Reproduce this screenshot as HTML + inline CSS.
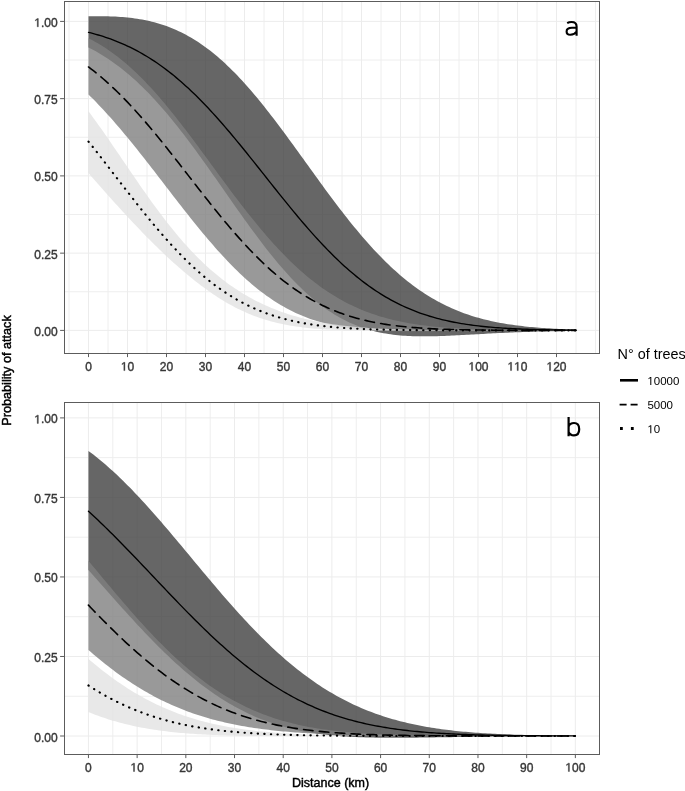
<!DOCTYPE html>
<html><head><meta charset="utf-8"><title>Probability of attack</title>
<style>
html,body{margin:0;padding:0;background:#fff;}
body{width:685px;height:791px;overflow:hidden;position:relative;}
svg{position:absolute;left:0;top:0;display:block;filter:blur(0.4px);}
text{font-family:"Liberation Sans",sans-serif;}
.ax{font-size:12px;fill:#363636;stroke:#363636;stroke-width:0.38px;}
.ax1{fill:#363636;stroke:#363636;stroke-width:64.85333333333334;}
.lg1{fill:#000;}
.let{font-size:27px;fill:#000;}
.tt{font-size:12.5px;fill:#000;}
.lg{font-size:11.5px;fill:#000;}
.lt{font-size:14.4px;fill:#000;}
</style></head><body>
<svg width="685" height="791" viewBox="0 0 685 791">
<rect width="685" height="791" fill="#fff"/>

<clipPath id="ca"><rect x="64.5" y="1.5" width="535.0" height="352.0"/></clipPath>
<g clip-path="url(#ca)">
<path d="M69 1.5V353.5M108 1.5V353.5M147 1.5V353.5M186 1.5V353.5M225 1.5V353.5M264 1.5V353.5M303 1.5V353.5M342 1.5V353.5M381 1.5V353.5M420 1.5V353.5M459 1.5V353.5M498 1.5V353.5M537 1.5V353.5M576 1.5V353.5M595.5 1.5V353.5M64.5 291.77H599.5M64.5 214.52H599.5M64.5 137.27H599.5M64.5 60.02H599.5" stroke="#eeeeee" stroke-width="1" fill="none"/>
<path d="M88.5 1.5V353.5M127.5 1.5V353.5M166.5 1.5V353.5M205.5 1.5V353.5M244.5 1.5V353.5M283.5 1.5V353.5M322.5 1.5V353.5M361.5 1.5V353.5M400.5 1.5V353.5M439.5 1.5V353.5M478.5 1.5V353.5M517.5 1.5V353.5M556.5 1.5V353.5M64.5 330.4H599.5M64.5 253.15H599.5M64.5 175.9H599.5M64.5 98.65H599.5M64.5 21.4H599.5" stroke="#ececec" stroke-width="1" fill="none"/>
<path d="M88.5 16.35L90.94 16.3L93.38 16.27L95.81 16.24L98.25 16.23L100.69 16.24L103.12 16.25L105.56 16.29L108 16.34L110.44 16.41L112.88 16.5L115.31 16.61L117.75 16.74L120.19 16.9L122.62 17.08L125.06 17.29L127.5 17.52L129.94 17.79L132.38 18.08L134.81 18.4L137.25 18.76L139.69 19.15L142.12 19.58L144.56 20.04L147 20.54L149.44 21.09L151.88 21.67L154.31 22.29L156.75 22.96L159.19 23.67L161.62 24.43L164.06 25.24L166.5 26.09L168.94 27L171.38 27.95L173.81 28.96L176.25 30.02L178.69 31.14L181.12 32.31L183.56 33.53L186 34.81L188.44 36.15L190.88 37.55L193.31 39L195.75 40.51L198.19 42.09L200.62 43.72L203.06 45.41L205.5 47.16L207.94 48.98L210.38 50.85L212.81 52.78L215.25 54.78L217.69 56.83L220.12 58.95L222.56 61.12L225 63.35L227.44 65.64L229.88 67.99L232.31 70.4L234.75 72.86L237.19 75.37L239.62 77.94L242.06 80.56L244.5 83.24L246.94 85.96L249.38 88.74L251.81 91.56L254.25 94.42L256.69 97.34L259.12 100.29L261.56 103.29L264 106.32L266.44 109.4L268.88 112.5L271.31 115.65L273.75 118.82L276.19 122.02L278.62 125.25L281.06 128.51L283.5 131.79L285.94 135.09L288.38 138.41L290.81 141.74L293.25 145.09L295.69 148.45L298.12 151.82L300.56 155.2L303 158.58L305.44 161.97L307.88 165.36L310.31 168.74L312.75 172.12L315.19 175.49L317.62 178.86L320.06 182.21L322.5 185.56L324.94 188.88L327.38 192.19L329.81 195.48L332.25 198.75L334.69 202L337.12 205.22L339.56 208.41L342 211.57L344.44 214.71L346.88 217.81L349.31 220.88L351.75 223.91L354.19 226.91L356.62 229.87L359.06 232.79L361.5 235.66L363.94 238.5L366.38 241.29L368.81 244.04L371.25 246.74L373.69 249.4L376.12 252.01L378.56 254.57L381 257.08L383.44 259.54L385.88 261.96L388.31 264.32L390.75 266.64L393.19 268.9L395.62 271.11L398.06 273.27L400.5 275.38L402.94 277.44L405.38 279.45L407.81 281.4L410.25 283.3L412.69 285.16L415.12 286.96L417.56 288.71L420 290.41L422.44 292.06L424.88 293.67L427.31 295.22L429.75 296.72L432.19 298.18L434.62 299.59L437.06 300.96L439.5 302.28L441.94 303.55L444.38 304.78L446.81 305.97L449.25 307.11L451.69 308.21L454.12 309.27L456.56 310.3L459 311.28L461.44 312.22L463.88 313.13L466.31 314L468.75 314.83L471.19 315.64L473.62 316.4L476.06 317.14L478.5 317.84L480.94 318.51L483.38 319.16L485.81 319.77L488.25 320.35L490.69 320.91L493.12 321.45L495.56 321.95L498 322.44L500.44 322.9L502.88 323.33L505.31 323.75L507.75 324.14L510.19 324.52L512.62 324.87L515.06 325.21L517.5 325.53L519.94 325.83L522.38 326.12L524.81 326.39L527.25 326.64L529.69 326.88L532.12 327.11L534.56 327.33L537 327.53L539.44 327.72L541.88 327.9L544.31 328.07L546.75 328.23L549.19 328.37L551.62 328.51L554.06 328.65L556.5 328.77L558.94 328.88L561.38 328.99L563.81 329.09L566.25 329.19L568.69 329.28L571.12 329.36L573.56 329.44L576 329.51L576 330.83L573.56 330.86L571.12 330.89L568.69 330.93L566.25 330.97L563.81 331L561.38 331.05L558.94 331.09L556.5 331.13L554.06 331.18L551.62 331.23L549.19 331.29L546.75 331.34L544.31 331.4L541.88 331.47L539.44 331.53L537 331.6L534.56 331.67L532.12 331.74L529.69 331.82L527.25 331.9L524.81 331.98L522.38 332.07L519.94 332.16L517.5 332.26L515.06 332.35L512.62 332.45L510.19 332.56L507.75 332.66L505.31 332.77L502.88 332.88L500.44 333L498 333.12L495.56 333.24L493.12 333.36L490.69 333.49L488.25 333.62L485.81 333.75L483.38 333.88L480.94 334.02L478.5 334.15L476.06 334.29L473.62 334.42L471.19 334.56L468.75 334.69L466.31 334.83L463.88 334.96L461.44 335.09L459 335.22L456.56 335.35L454.12 335.47L451.69 335.59L449.25 335.7L446.81 335.81L444.38 335.91L441.94 336.01L439.5 336.09L437.06 336.17L434.62 336.23L432.19 336.29L429.75 336.33L427.31 336.36L424.88 336.37L422.44 336.37L420 336.35L417.56 336.32L415.12 336.26L412.69 336.19L410.25 336.09L407.81 335.97L405.38 335.83L402.94 335.66L400.5 335.46L398.06 335.23L395.62 334.98L393.19 334.69L390.75 334.37L388.31 334.01L385.88 333.62L383.44 333.19L381 332.73L378.56 332.22L376.12 331.67L373.69 331.07L371.25 330.44L368.81 329.75L366.38 329.02L363.94 328.24L361.5 327.41L359.06 326.53L356.62 325.59L354.19 324.61L351.75 323.56L349.31 322.46L346.88 321.31L344.44 320.09L342 318.82L339.56 317.48L337.12 316.09L334.69 314.63L332.25 313.11L329.81 311.53L327.38 309.89L324.94 308.18L322.5 306.41L320.06 304.57L317.62 302.67L315.19 300.71L312.75 298.68L310.31 296.59L307.88 294.44L305.44 292.22L303 289.94L300.56 287.6L298.12 285.2L295.69 282.73L293.25 280.21L290.81 277.63L288.38 274.99L285.94 272.3L283.5 269.54L281.06 266.74L278.62 263.88L276.19 260.98L273.75 258.02L271.31 255.02L268.88 251.97L266.44 248.88L264 245.75L261.56 242.57L259.12 239.36L256.69 236.12L254.25 232.84L251.81 229.53L249.38 226.19L246.94 222.83L244.5 219.44L242.06 216.03L239.62 212.6L237.19 209.16L234.75 205.7L232.31 202.23L229.88 198.76L227.44 195.27L225 191.79L222.56 188.3L220.12 184.81L217.69 181.33L215.25 177.85L212.81 174.38L210.38 170.92L207.94 167.48L205.5 164.05L203.06 160.64L200.62 157.25L198.19 153.89L195.75 150.54L193.31 147.23L190.88 143.94L188.44 140.69L186 137.46L183.56 134.28L181.12 131.13L178.69 128.01L176.25 124.94L173.81 121.9L171.38 118.91L168.94 115.97L166.5 113.06L164.06 110.21L161.62 107.4L159.19 104.64L156.75 101.93L154.31 99.27L151.88 96.66L149.44 94.1L147 91.6L144.56 89.15L142.12 86.75L139.69 84.4L137.25 82.11L134.81 79.87L132.38 77.69L129.94 75.56L127.5 73.48L125.06 71.46L122.62 69.49L120.19 67.58L117.75 65.72L115.31 63.91L112.88 62.16L110.44 60.45L108 58.8L105.56 57.2L103.12 55.65L100.69 54.15L98.25 52.7L95.81 51.3L93.38 49.95L90.94 48.64L88.5 47.38Z" fill="#404040" fill-opacity="0.8"/>
<path d="M88.5 38.31L90.94 39.55L93.38 40.84L95.81 42.18L98.25 43.58L100.69 45.03L103.12 46.54L105.56 48.11L108 49.73L110.44 51.42L112.88 53.16L115.31 54.96L117.75 56.82L120.19 58.74L122.62 60.71L125.06 62.75L127.5 64.84L129.94 67L132.38 69.21L134.81 71.47L137.25 73.8L139.69 76.17L142.12 78.61L144.56 81.1L147 83.64L149.44 86.23L151.88 88.87L154.31 91.57L156.75 94.31L159.19 97.1L161.62 99.93L164.06 102.81L166.5 105.73L168.94 108.68L171.38 111.68L173.81 114.72L176.25 117.78L178.69 120.89L181.12 124.02L183.56 127.18L186 130.36L188.44 133.57L190.88 136.81L193.31 140.06L195.75 143.33L198.19 146.61L200.62 149.91L203.06 153.22L205.5 156.53L207.94 159.85L210.38 163.18L212.81 166.51L215.25 169.83L217.69 173.15L220.12 176.47L222.56 179.78L225 183.08L227.44 186.36L229.88 189.63L232.31 192.89L234.75 196.13L237.19 199.34L239.62 202.54L242.06 205.71L244.5 208.85L246.94 211.96L249.38 215.05L251.81 218.1L254.25 221.12L256.69 224.11L259.12 227.06L261.56 229.98L264 232.85L266.44 235.69L268.88 238.48L271.31 241.23L273.75 243.94L276.19 246.61L278.62 249.23L281.06 251.8L283.5 254.33L285.94 256.81L288.38 259.24L290.81 261.63L293.25 263.96L295.69 266.25L298.12 268.49L300.56 270.68L303 272.81L305.44 274.9L307.88 276.94L310.31 278.93L312.75 280.87L315.19 282.76L317.62 284.6L320.06 286.39L322.5 288.13L324.94 289.82L327.38 291.46L329.81 293.06L332.25 294.61L334.69 296.11L337.12 297.56L339.56 298.97L342 300.34L344.44 301.66L346.88 302.93L349.31 304.17L351.75 305.36L354.19 306.5L356.62 307.61L359.06 308.68L361.5 309.71L363.94 310.7L366.38 311.65L368.81 312.57L371.25 313.45L373.69 314.3L376.12 315.11L378.56 315.89L381 316.63L383.44 317.35L385.88 318.03L388.31 318.69L390.75 319.32L393.19 319.92L395.62 320.49L398.06 321.03L400.5 321.55L402.94 322.05L405.38 322.52L407.81 322.97L410.25 323.4L412.69 323.81L415.12 324.2L417.56 324.57L420 324.91L422.44 325.25L424.88 325.56L427.31 325.86L429.75 326.14L432.19 326.41L434.62 326.66L437.06 326.9L439.5 327.12L441.94 327.33L444.38 327.53L446.81 327.72L449.25 327.9L451.69 328.07L454.12 328.22L456.56 328.37L459 328.51L461.44 328.64L463.88 328.76L466.31 328.88L468.75 328.99L471.19 329.09L473.62 329.18L476.06 329.27L478.5 329.35L480.94 329.43L483.38 329.5L485.81 329.57L488.25 329.63L490.69 329.69L493.12 329.74L495.56 329.79L498 329.84L500.44 329.88L502.88 329.93L505.31 329.96L507.75 330L510.19 330.03L512.62 330.06L515.06 330.09L517.5 330.11L519.94 330.14L522.38 330.16L524.81 330.18L527.25 330.2L529.69 330.21L532.12 330.23L534.56 330.25L537 330.26L539.44 330.27L541.88 330.28L544.31 330.29L546.75 330.3L549.19 330.31L551.62 330.32L554.06 330.33L556.5 330.33L558.94 330.34L561.38 330.34L563.81 330.35L566.25 330.35L568.69 330.36L571.12 330.36L573.56 330.37L576 330.37L576 330.42L573.56 330.42L571.12 330.42L568.69 330.42L566.25 330.42L563.81 330.43L561.38 330.43L558.94 330.43L556.5 330.43L554.06 330.44L551.62 330.44L549.19 330.44L546.75 330.45L544.31 330.45L541.88 330.45L539.44 330.46L537 330.46L534.56 330.47L532.12 330.48L529.69 330.48L527.25 330.49L524.81 330.49L522.38 330.5L519.94 330.51L517.5 330.52L515.06 330.53L512.62 330.54L510.19 330.55L507.75 330.56L505.31 330.57L502.88 330.58L500.44 330.59L498 330.6L495.56 330.62L493.12 330.63L490.69 330.65L488.25 330.66L485.81 330.68L483.38 330.69L480.94 330.71L478.5 330.73L476.06 330.75L473.62 330.77L471.19 330.79L468.75 330.81L466.31 330.83L463.88 330.85L461.44 330.87L459 330.9L456.56 330.92L454.12 330.94L451.69 330.96L449.25 330.99L446.81 331.01L444.38 331.03L441.94 331.05L439.5 331.07L437.06 331.1L434.62 331.12L432.19 331.13L429.75 331.15L427.31 331.17L424.88 331.18L422.44 331.19L420 331.2L417.56 331.21L415.12 331.21L412.69 331.21L410.25 331.21L407.81 331.2L405.38 331.19L402.94 331.17L400.5 331.14L398.06 331.11L395.62 331.07L393.19 331.03L390.75 330.97L388.31 330.91L385.88 330.84L383.44 330.76L381 330.66L378.56 330.56L376.12 330.44L373.69 330.31L371.25 330.17L368.81 330.01L366.38 329.83L363.94 329.64L361.5 329.43L359.06 329.19L356.62 328.94L354.19 328.67L351.75 328.38L349.31 328.06L346.88 327.72L344.44 327.35L342 326.96L339.56 326.54L337.12 326.09L334.69 325.61L332.25 325.1L329.81 324.56L327.38 323.98L324.94 323.37L322.5 322.72L320.06 322.03L317.62 321.31L315.19 320.55L312.75 319.75L310.31 318.9L307.88 318.02L305.44 317.09L303 316.11L300.56 315.09L298.12 314.03L295.69 312.92L293.25 311.75L290.81 310.55L288.38 309.29L285.94 307.98L283.5 306.62L281.06 305.21L278.62 303.74L276.19 302.23L273.75 300.66L271.31 299.04L268.88 297.37L266.44 295.64L264 293.86L261.56 292.03L259.12 290.14L256.69 288.2L254.25 286.21L251.81 284.16L249.38 282.07L246.94 279.92L244.5 277.72L242.06 275.47L239.62 273.17L237.19 270.82L234.75 268.42L232.31 265.98L229.88 263.49L227.44 260.95L225 258.37L222.56 255.75L220.12 253.09L217.69 250.38L215.25 247.64L212.81 244.86L210.38 242.04L207.94 239.19L205.5 236.31L203.06 233.39L200.62 230.45L198.19 227.48L195.75 224.48L193.31 221.46L190.88 218.41L188.44 215.35L186 212.26L183.56 209.16L181.12 206.05L178.69 202.92L176.25 199.78L173.81 196.63L171.38 193.47L168.94 190.31L166.5 187.15L164.06 183.98L161.62 180.81L159.19 177.65L156.75 174.49L154.31 171.34L151.88 168.19L149.44 165.06L147 161.93L144.56 158.82L142.12 155.73L139.69 152.65L137.25 149.59L134.81 146.55L132.38 143.53L129.94 140.54L127.5 137.57L125.06 134.63L122.62 131.71L120.19 128.83L117.75 125.97L115.31 123.15L112.88 120.36L110.44 117.61L108 114.89L105.56 112.2L103.12 109.56L100.69 106.95L98.25 104.39L95.81 101.86L93.38 99.37L90.94 96.93L88.5 94.53Z" fill="#808080" fill-opacity="0.8"/>
<path d="M88.5 111.26L90.94 114.55L93.38 117.88L95.81 121.25L98.25 124.65L100.69 128.08L103.12 131.54L105.56 135.03L108 138.55L110.44 142.08L112.88 145.63L115.31 149.19L117.75 152.76L120.19 156.34L122.62 159.93L125.06 163.52L127.5 167.1L129.94 170.68L132.38 174.25L134.81 177.81L137.25 181.35L139.69 184.88L142.12 188.38L144.56 191.87L147 195.32L149.44 198.75L151.88 202.14L154.31 205.5L156.75 208.82L159.19 212.11L161.62 215.35L164.06 218.55L166.5 221.7L168.94 224.81L171.38 227.86L173.81 230.87L176.25 233.83L178.69 236.73L181.12 239.58L183.56 242.38L186 245.11L188.44 247.8L190.88 250.43L193.31 253L195.75 255.51L198.19 257.97L200.62 260.37L203.06 262.71L205.5 265L207.94 267.23L210.38 269.41L212.81 271.53L215.25 273.6L217.69 275.61L220.12 277.57L222.56 279.48L225 281.33L227.44 283.14L229.88 284.9L232.31 286.6L234.75 288.26L237.19 289.87L239.62 291.43L242.06 292.95L244.5 294.42L246.94 295.85L249.38 297.23L251.81 298.58L254.25 299.88L256.69 301.13L259.12 302.35L261.56 303.53L264 304.67L266.44 305.78L268.88 306.85L271.31 307.88L273.75 308.87L276.19 309.83L278.62 310.76L281.06 311.65L283.5 312.51L285.94 313.34L288.38 314.14L290.81 314.91L293.25 315.66L295.69 316.37L298.12 317.05L300.56 317.71L303 318.34L305.44 318.95L307.88 319.53L310.31 320.09L312.75 320.62L315.19 321.13L317.62 321.62L320.06 322.09L322.5 322.53L324.94 322.96L327.38 323.37L329.81 323.76L332.25 324.13L334.69 324.48L337.12 324.82L339.56 325.14L342 325.44L344.44 325.73L346.88 326.01L349.31 326.27L351.75 326.52L354.19 326.76L356.62 326.98L359.06 327.19L361.5 327.39L363.94 327.58L366.38 327.76L368.81 327.93L371.25 328.09L373.69 328.24L376.12 328.38L378.56 328.51L381 328.64L383.44 328.76L385.88 328.87L388.31 328.97L390.75 329.07L393.19 329.17L395.62 329.25L398.06 329.33L400.5 329.41L402.94 329.48L405.38 329.55L407.81 329.61L410.25 329.67L412.69 329.72L415.12 329.77L417.56 329.82L420 329.86L422.44 329.91L424.88 329.94L427.31 329.98L429.75 330.01L432.19 330.04L434.62 330.07L437.06 330.1L439.5 330.12L441.94 330.14L444.38 330.17L446.81 330.18L449.25 330.2L451.69 330.22L454.12 330.23L456.56 330.25L459 330.26L461.44 330.27L463.88 330.28L466.31 330.29L468.75 330.3L471.19 330.31L473.62 330.32L476.06 330.33L478.5 330.33L480.94 330.34L483.38 330.35L485.81 330.35L488.25 330.35L490.69 330.36L493.12 330.36L495.56 330.37L498 330.37L500.44 330.37L502.88 330.38L505.31 330.38L507.75 330.38L510.19 330.38L512.62 330.38L515.06 330.39L517.5 330.39L519.94 330.39L522.38 330.39L524.81 330.39L527.25 330.39L529.69 330.39L532.12 330.39L534.56 330.39L537 330.39L539.44 330.39L541.88 330.4L544.31 330.4L546.75 330.4L549.19 330.4L551.62 330.4L554.06 330.4L556.5 330.4L558.94 330.4L561.38 330.4L563.81 330.4L566.25 330.4L568.69 330.4L571.12 330.4L573.56 330.4L576 330.4L576 330.4L573.56 330.4L571.12 330.4L568.69 330.4L566.25 330.4L563.81 330.4L561.38 330.4L558.94 330.4L556.5 330.4L554.06 330.4L551.62 330.4L549.19 330.4L546.75 330.4L544.31 330.4L541.88 330.4L539.44 330.4L537 330.4L534.56 330.4L532.12 330.4L529.69 330.4L527.25 330.4L524.81 330.4L522.38 330.41L519.94 330.41L517.5 330.41L515.06 330.41L512.62 330.41L510.19 330.41L507.75 330.41L505.31 330.41L502.88 330.41L500.44 330.41L498 330.41L495.56 330.41L493.12 330.42L490.69 330.42L488.25 330.42L485.81 330.42L483.38 330.42L480.94 330.42L478.5 330.43L476.06 330.43L473.62 330.43L471.19 330.43L468.75 330.44L466.31 330.44L463.88 330.44L461.44 330.45L459 330.45L456.56 330.45L454.12 330.46L451.69 330.46L449.25 330.46L446.81 330.47L444.38 330.47L441.94 330.48L439.5 330.48L437.06 330.49L434.62 330.49L432.19 330.5L429.75 330.5L427.31 330.51L424.88 330.51L422.44 330.52L420 330.53L417.56 330.53L415.12 330.54L412.69 330.54L410.25 330.55L407.81 330.55L405.38 330.56L402.94 330.56L400.5 330.57L398.06 330.57L395.62 330.57L393.19 330.57L390.75 330.58L388.31 330.58L385.88 330.57L383.44 330.57L381 330.57L378.56 330.56L376.12 330.55L373.69 330.54L371.25 330.53L368.81 330.52L366.38 330.5L363.94 330.48L361.5 330.45L359.06 330.42L356.62 330.39L354.19 330.35L351.75 330.3L349.31 330.25L346.88 330.2L344.44 330.13L342 330.06L339.56 329.99L337.12 329.9L334.69 329.81L332.25 329.7L329.81 329.58L327.38 329.46L324.94 329.32L322.5 329.17L320.06 329L317.62 328.82L315.19 328.63L312.75 328.42L310.31 328.19L307.88 327.95L305.44 327.68L303 327.4L300.56 327.09L298.12 326.77L295.69 326.42L293.25 326.04L290.81 325.64L288.38 325.22L285.94 324.77L283.5 324.29L281.06 323.77L278.62 323.23L276.19 322.66L273.75 322.05L271.31 321.41L268.88 320.74L266.44 320.03L264 319.28L261.56 318.49L259.12 317.67L256.69 316.81L254.25 315.9L251.81 314.96L249.38 313.97L246.94 312.94L244.5 311.87L242.06 310.76L239.62 309.6L237.19 308.39L234.75 307.15L232.31 305.86L229.88 304.52L227.44 303.15L225 301.72L222.56 300.26L220.12 298.75L217.69 297.2L215.25 295.61L212.81 293.98L210.38 292.3L207.94 290.59L205.5 288.84L203.06 287.05L200.62 285.22L198.19 283.35L195.75 281.45L193.31 279.52L190.88 277.55L188.44 275.55L186 273.51L183.56 271.45L181.12 269.35L178.69 267.23L176.25 265.07L173.81 262.89L171.38 260.67L168.94 258.43L166.5 256.17L164.06 253.88L161.62 251.56L159.19 249.21L156.75 246.85L154.31 244.45L151.88 242.04L149.44 239.6L147 237.14L144.56 234.65L142.12 232.15L139.69 229.62L137.25 227.08L134.81 224.51L132.38 221.93L129.94 219.33L127.5 216.71L125.06 214.07L122.62 211.42L120.19 208.75L117.75 206.07L115.31 203.38L112.88 200.67L110.44 197.95L108 195.22L105.56 192.48L103.12 189.73L100.69 186.97L98.25 184.21L95.81 181.44L93.38 178.66L90.94 175.88L88.5 173.1Z" fill="#e2e2e2" fill-opacity="0.8"/>
<path d="M88.5 32.35L90.94 32.97L93.38 33.61L95.81 34.28L98.25 34.99L100.69 35.72L103.12 36.48L105.56 37.28L108 38.11L110.44 38.97L112.88 39.87L115.31 40.8L117.75 41.77L120.19 42.78L122.62 43.82L125.06 44.91L127.5 46.03L129.94 47.19L132.38 48.4L134.81 49.64L137.25 50.93L139.69 52.26L142.12 53.63L144.56 55.05L147 56.51L149.44 58.02L151.88 59.57L154.31 61.17L156.75 62.81L159.19 64.5L161.62 66.23L164.06 68.01L166.5 69.84L168.94 71.71L171.38 73.63L173.81 75.6L176.25 77.61L178.69 79.67L181.12 81.78L183.56 83.93L186 86.13L188.44 88.37L190.88 90.65L193.31 92.98L195.75 95.35L198.19 97.77L200.62 100.22L203.06 102.72L205.5 105.25L207.94 107.83L210.38 110.44L212.81 113.09L215.25 115.77L217.69 118.49L220.12 121.25L222.56 124.03L225 126.84L227.44 129.69L229.88 132.56L232.31 135.45L234.75 138.37L237.19 141.32L239.62 144.28L242.06 147.26L244.5 150.26L246.94 153.28L249.38 156.31L251.81 159.35L254.25 162.4L256.69 165.47L259.12 168.53L261.56 171.6L264 174.68L266.44 177.75L268.88 180.83L271.31 183.9L273.75 186.97L276.19 190.03L278.62 193.08L281.06 196.12L283.5 199.14L285.94 202.16L288.38 205.15L290.81 208.13L293.25 211.09L295.69 214.03L298.12 216.95L300.56 219.84L303 222.7L305.44 225.54L307.88 228.35L310.31 231.12L312.75 233.87L315.19 236.58L317.62 239.26L320.06 241.9L322.5 244.51L324.94 247.07L327.38 249.6L329.81 252.09L332.25 254.54L334.69 256.94L337.12 259.3L339.56 261.62L342 263.9L344.44 266.13L346.88 268.32L349.31 270.46L351.75 272.55L354.19 274.6L356.62 276.61L359.06 278.57L361.5 280.48L363.94 282.34L366.38 284.16L368.81 285.93L371.25 287.66L373.69 289.33L376.12 290.97L378.56 292.55L381 294.1L383.44 295.59L385.88 297.05L388.31 298.45L390.75 299.82L393.19 301.14L395.62 302.42L398.06 303.65L400.5 304.85L402.94 306L405.38 307.12L407.81 308.2L410.25 309.23L412.69 310.23L415.12 311.19L417.56 312.12L420 313.01L422.44 313.87L424.88 314.69L427.31 315.48L429.75 316.24L432.19 316.96L434.62 317.66L437.06 318.32L439.5 318.96L441.94 319.57L444.38 320.15L446.81 320.71L449.25 321.24L451.69 321.75L454.12 322.23L456.56 322.69L459 323.13L461.44 323.55L463.88 323.95L466.31 324.33L468.75 324.68L471.19 325.02L473.62 325.35L476.06 325.65L478.5 325.94L480.94 326.22L483.38 326.48L485.81 326.72L488.25 326.96L490.69 327.18L493.12 327.38L495.56 327.58L498 327.76L500.44 327.94L502.88 328.1L505.31 328.25L507.75 328.4L510.19 328.53L512.62 328.66L515.06 328.78L517.5 328.89L519.94 329L522.38 329.1L524.81 329.19L527.25 329.28L529.69 329.36L532.12 329.43L534.56 329.51L537 329.57L539.44 329.63L541.88 329.69L544.31 329.74L546.75 329.79L549.19 329.84L551.62 329.88L554.06 329.92L556.5 329.96L558.94 329.99L561.38 330.03L563.81 330.06L566.25 330.08L568.69 330.11L571.12 330.13L573.56 330.16L576 330.18" fill="none" stroke="#000" stroke-width="1.35" stroke-linecap="round" stroke-linejoin="round" />
<path d="M88.5 66.98L90.94 68.82L93.38 70.71L95.81 72.65L98.25 74.63L100.69 76.67L103.12 78.75L105.56 80.88L108 83.06L110.44 85.28L112.88 87.56L115.31 89.87L117.75 92.24L120.19 94.65L122.62 97.1L125.06 99.6L127.5 102.14L129.94 104.72L132.38 107.34L134.81 110L137.25 112.71L139.69 115.44L142.12 118.22L144.56 121.02L147 123.87L149.44 126.74L151.88 129.64L154.31 132.57L156.75 135.53L159.19 138.52L161.62 141.53L164.06 144.55L166.5 147.6L168.94 150.67L171.38 153.76L173.81 156.85L176.25 159.96L178.69 163.08L181.12 166.21L183.56 169.35L186 172.49L188.44 175.63L190.88 178.77L193.31 181.91L195.75 185.04L198.19 188.17L200.62 191.3L203.06 194.41L205.5 197.51L207.94 200.59L210.38 203.66L212.81 206.72L215.25 209.75L217.69 212.76L220.12 215.75L222.56 218.71L225 221.65L227.44 224.56L229.88 227.44L232.31 230.28L234.75 233.1L237.19 235.88L239.62 238.62L242.06 241.33L244.5 244L246.94 246.63L249.38 249.22L251.81 251.76L254.25 254.27L256.69 256.73L259.12 259.15L261.56 261.52L264 263.85L266.44 266.13L268.88 268.36L271.31 270.55L273.75 272.68L276.19 274.77L278.62 276.82L281.06 278.81L283.5 280.76L285.94 282.65L288.38 284.5L290.81 286.3L293.25 288.05L295.69 289.76L298.12 291.41L300.56 293.02L303 294.58L305.44 296.1L307.88 297.56L310.31 298.98L312.75 300.36L315.19 301.69L317.62 302.98L320.06 304.22L322.5 305.42L324.94 306.58L327.38 307.7L329.81 308.78L332.25 309.82L334.69 310.81L337.12 311.77L339.56 312.7L342 313.58L344.44 314.44L346.88 315.25L349.31 316.03L351.75 316.78L354.19 317.5L356.62 318.19L359.06 318.85L361.5 319.48L363.94 320.07L366.38 320.65L368.81 321.19L371.25 321.71L373.69 322.21L376.12 322.68L378.56 323.13L381 323.56L383.44 323.96L385.88 324.35L388.31 324.71L390.75 325.06L393.19 325.38L395.62 325.69L398.06 325.99L400.5 326.27L402.94 326.53L405.38 326.78L407.81 327.01L410.25 327.23L412.69 327.44L415.12 327.64L417.56 327.82L420 328L422.44 328.16L424.88 328.31L427.31 328.46L429.75 328.59L432.19 328.72L434.62 328.84L437.06 328.95L439.5 329.05L441.94 329.15L444.38 329.24L446.81 329.33L449.25 329.41L451.69 329.48L454.12 329.55L456.56 329.61L459 329.67L461.44 329.73L463.88 329.78L466.31 329.83L468.75 329.87L471.19 329.92L473.62 329.95L476.06 329.99L478.5 330.02L480.94 330.05L483.38 330.08L485.81 330.11L488.25 330.13L490.69 330.15L493.12 330.18L495.56 330.19L498 330.21L500.44 330.23L502.88 330.24L505.31 330.26L507.75 330.27L510.19 330.28L512.62 330.29L515.06 330.3L517.5 330.31L519.94 330.32L522.38 330.33L524.81 330.33L527.25 330.34L529.69 330.34L532.12 330.35L534.56 330.35L537 330.36L539.44 330.36L541.88 330.37L544.31 330.37L546.75 330.37L549.19 330.37L551.62 330.38L554.06 330.38L556.5 330.38L558.94 330.38L561.38 330.38L563.81 330.39L566.25 330.39L568.69 330.39L571.12 330.39L573.56 330.39L576 330.39" fill="none" stroke="#000" stroke-width="1.6" stroke-linecap="round" stroke-linejoin="round" stroke-dasharray="9.6 6.3"/>
<path d="M88.5 141.58L90.94 144.64L93.38 147.72L95.81 150.81L98.25 153.92L100.69 157.05L103.12 160.19L105.56 163.34L108 166.49L110.44 169.66L112.88 172.83L115.31 176L117.75 179.17L120.19 182.33L122.62 185.5L125.06 188.65L127.5 191.8L129.94 194.94L132.38 198.06L134.81 201.18L137.25 204.27L139.69 207.35L142.12 210.4L144.56 213.44L147 216.44L149.44 219.43L151.88 222.38L154.31 225.31L156.75 228.21L159.19 231.07L161.62 233.9L164.06 236.7L166.5 239.45L168.94 242.17L171.38 244.85L173.81 247.49L176.25 250.09L178.69 252.65L181.12 255.16L183.56 257.62L186 260.05L188.44 262.42L190.88 264.75L193.31 267.03L195.75 269.27L198.19 271.45L200.62 273.59L203.06 275.68L205.5 277.72L207.94 279.71L210.38 281.65L212.81 283.54L215.25 285.38L217.69 287.17L220.12 288.92L222.56 290.61L225 292.26L227.44 293.85L229.88 295.4L232.31 296.9L234.75 298.36L237.19 299.77L239.62 301.13L242.06 302.45L244.5 303.72L246.94 304.95L249.38 306.14L251.81 307.28L254.25 308.38L256.69 309.44L259.12 310.47L261.56 311.45L264 312.39L266.44 313.3L268.88 314.17L271.31 315L273.75 315.8L276.19 316.57L278.62 317.3L281.06 318.01L283.5 318.68L285.94 319.32L288.38 319.93L290.81 320.51L293.25 321.07L295.69 321.6L298.12 322.11L300.56 322.59L303 323.04L305.44 323.48L307.88 323.89L310.31 324.28L312.75 324.65L315.19 325.01L317.62 325.34L320.06 325.66L322.5 325.95L324.94 326.24L327.38 326.5L329.81 326.75L332.25 326.99L334.69 327.22L337.12 327.43L339.56 327.63L342 327.81L344.44 327.99L346.88 328.15L349.31 328.31L351.75 328.45L354.19 328.59L356.62 328.72L359.06 328.84L361.5 328.95L363.94 329.06L366.38 329.15L368.81 329.25L371.25 329.33L373.69 329.41L376.12 329.49L378.56 329.55L381 329.62L383.44 329.68L385.88 329.74L388.31 329.79L390.75 329.84L393.19 329.88L395.62 329.92L398.06 329.96L400.5 330L402.94 330.03L405.38 330.06L407.81 330.09L410.25 330.11L412.69 330.14L415.12 330.16L417.56 330.18L420 330.2L422.44 330.22L424.88 330.23L427.31 330.25L429.75 330.26L432.19 330.27L434.62 330.28L437.06 330.29L439.5 330.3L441.94 330.31L444.38 330.32L446.81 330.33L449.25 330.33L451.69 330.34L454.12 330.35L456.56 330.35L459 330.36L461.44 330.36L463.88 330.36L466.31 330.37L468.75 330.37L471.19 330.37L473.62 330.38L476.06 330.38L478.5 330.38L480.94 330.38L483.38 330.38L485.81 330.39L488.25 330.39L490.69 330.39L493.12 330.39L495.56 330.39L498 330.39L500.44 330.39L502.88 330.39L505.31 330.39L507.75 330.39L510.19 330.4L512.62 330.4L515.06 330.4L517.5 330.4L519.94 330.4L522.38 330.4L524.81 330.4L527.25 330.4L529.69 330.4L532.12 330.4L534.56 330.4L537 330.4L539.44 330.4L541.88 330.4L544.31 330.4L546.75 330.4L549.19 330.4L551.62 330.4L554.06 330.4L556.5 330.4L558.94 330.4L561.38 330.4L563.81 330.4L566.25 330.4L568.69 330.4L571.12 330.4L573.56 330.4L576 330.4" fill="none" stroke="#000" stroke-width="2.15" stroke-linecap="round" stroke-linejoin="round" stroke-dasharray="0.3 6.3"/>
</g>
<rect x="64.5" y="1.5" width="535.0" height="352.0" fill="none" stroke="#5c5c5c" stroke-width="1.0"/>
<path d="M88.5 353.5v3.6M127.5 353.5v3.6M166.5 353.5v3.6M205.5 353.5v3.6M244.5 353.5v3.6M283.5 353.5v3.6M322.5 353.5v3.6M361.5 353.5v3.6M400.5 353.5v3.6M439.5 353.5v3.6M478.5 353.5v3.6M517.5 353.5v3.6M556.5 353.5v3.6M64.5 330.4h-4.4M64.5 253.15h-4.4M64.5 175.9h-4.4M64.5 98.65h-4.4M64.5 21.4h-4.4" stroke="#5c5c5c" stroke-width="1.0" fill="none"/>
<text x="88.5" y="370.6" text-anchor="middle" class="ax">0</text>
<text x="127.5" y="370.6" text-anchor="middle" class="ax"> 0</text><path transform="translate(120.83 370.60) scale(0.005859 -0.005859)" d="M515 0L515 1237L197 1010L197 1180L530 1409L696 1409L696 0Z" class="ax1"/>
<text x="166.5" y="370.6" text-anchor="middle" class="ax">20</text>
<text x="205.5" y="370.6" text-anchor="middle" class="ax">30</text>
<text x="244.5" y="370.6" text-anchor="middle" class="ax">40</text>
<text x="283.5" y="370.6" text-anchor="middle" class="ax">50</text>
<text x="322.5" y="370.6" text-anchor="middle" class="ax">60</text>
<text x="361.5" y="370.6" text-anchor="middle" class="ax">70</text>
<text x="400.5" y="370.6" text-anchor="middle" class="ax">80</text>
<text x="439.5" y="370.6" text-anchor="middle" class="ax">90</text>
<text x="478.5" y="370.6" text-anchor="middle" class="ax"> 00</text><path transform="translate(468.49 370.60) scale(0.005859 -0.005859)" d="M515 0L515 1237L197 1010L197 1180L530 1409L696 1409L696 0Z" class="ax1"/>
<text x="517.5" y="370.6" text-anchor="middle" class="ax">  0</text><path transform="translate(507.49 370.60) scale(0.005859 -0.005859)" d="M515 0L515 1237L197 1010L197 1180L530 1409L696 1409L696 0Z" class="ax1"/><path transform="translate(514.16 370.60) scale(0.005859 -0.005859)" d="M515 0L515 1237L197 1010L197 1180L530 1409L696 1409L696 0Z" class="ax1"/>
<text x="556.5" y="370.6" text-anchor="middle" class="ax"> 20</text><path transform="translate(546.49 370.60) scale(0.005859 -0.005859)" d="M515 0L515 1237L197 1010L197 1180L530 1409L696 1409L696 0Z" class="ax1"/>
<text x="57.6" y="335.8" text-anchor="end" class="ax">0.00</text>
<text x="57.6" y="258.55" text-anchor="end" class="ax">0.25</text>
<text x="57.6" y="181.3" text-anchor="end" class="ax">0.50</text>
<text x="57.6" y="104.05" text-anchor="end" class="ax">0.75</text>
<text x="57.6" y="26.8" text-anchor="end" class="ax"> .00</text><path transform="translate(34.24 26.80) scale(0.005859 -0.005859)" d="M515 0L515 1237L197 1010L197 1180L530 1409L696 1409L696 0Z" class="ax1"/>
<path d="M567.2 23.1C568.5 22.3 570 22 571.5 22C574.8 22 576.6 23.4 576.6 26.5L576.6 35.8M576.6 27.8L572 27.8C568.3 27.8 566.6 29.1 566.6 31.4C566.6 33.6 568 34.75 570.3 34.75C573 34.75 575.3 33.6 576.6 31.5" fill="none" stroke="#000" stroke-width="2.1"/>
<clipPath id="cb"><rect x="64.5" y="402.5" width="535.0" height="352.0"/></clipPath>
<g clip-path="url(#cb)">
<path d="M112.8 402.5V754.5M161.49 402.5V754.5M210.18 402.5V754.5M258.87 402.5V754.5M307.56 402.5V754.5M356.24 402.5V754.5M404.94 402.5V754.5M453.62 402.5V754.5M502.31 402.5V754.5M551 402.5V754.5M64.5 696.24H599.5M64.5 616.71H599.5M64.5 537.19H599.5M64.5 457.66H599.5" stroke="#eeeeee" stroke-width="1" fill="none"/>
<path d="M88.45 402.5V754.5M137.14 402.5V754.5M185.83 402.5V754.5M234.52 402.5V754.5M283.21 402.5V754.5M331.9 402.5V754.5M380.59 402.5V754.5M429.28 402.5V754.5M477.97 402.5V754.5M526.66 402.5V754.5M575.35 402.5V754.5M64.5 736H599.5M64.5 656.48H599.5M64.5 576.95H599.5M64.5 497.42H599.5M64.5 417.9H599.5" stroke="#ececec" stroke-width="1" fill="none"/>
<path d="M88.45 450.88L90.88 452.71L93.32 454.58L95.75 456.49L98.19 458.45L100.62 460.45L103.06 462.5L105.49 464.58L107.93 466.71L110.36 468.88L112.8 471.09L115.23 473.33L117.66 475.62L120.1 477.95L122.53 480.31L124.97 482.71L127.4 485.14L129.84 487.61L132.27 490.11L134.71 492.65L137.14 495.21L139.57 497.81L142.01 500.44L144.44 503.09L146.88 505.77L149.31 508.47L151.75 511.2L154.18 513.95L156.62 516.73L159.05 519.52L161.49 522.33L163.92 525.16L166.35 528.01L168.79 530.87L171.22 533.74L173.66 536.63L176.09 539.52L178.53 542.43L180.96 545.34L183.4 548.26L185.83 551.18L188.26 554.11L190.7 557.04L193.13 559.96L195.57 562.89L198 565.82L200.44 568.74L202.87 571.65L205.31 574.56L207.74 577.46L210.18 580.36L212.61 583.24L215.04 586.11L217.48 588.97L219.91 591.81L222.35 594.64L224.78 597.45L227.22 600.24L229.65 603.02L232.09 605.77L234.52 608.51L236.95 611.22L239.39 613.91L241.82 616.57L244.26 619.21L246.69 621.83L249.13 624.42L251.56 626.98L254 629.51L256.43 632.02L258.87 634.5L261.3 636.94L263.73 639.36L266.17 641.74L268.6 644.09L271.04 646.41L273.47 648.7L275.91 650.95L278.34 653.17L280.78 655.36L283.21 657.51L285.64 659.63L288.08 661.71L290.51 663.76L292.95 665.77L295.38 667.74L297.82 669.68L300.25 671.59L302.69 673.46L305.12 675.29L307.56 677.09L309.99 678.85L312.42 680.58L314.86 682.27L317.29 683.93L319.73 685.55L322.16 687.13L324.6 688.68L327.03 690.2L329.47 691.68L331.9 693.12L334.33 694.54L336.77 695.91L339.2 697.26L341.64 698.57L344.07 699.85L346.51 701.09L348.94 702.31L351.38 703.49L353.81 704.64L356.24 705.76L358.68 706.85L361.11 707.91L363.55 708.94L365.98 709.94L368.42 710.91L370.85 711.86L373.29 712.77L375.72 713.66L378.16 714.52L380.59 715.36L383.02 716.17L385.46 716.95L387.89 717.71L390.33 718.44L392.76 719.15L395.2 719.84L397.63 720.51L400.07 721.15L402.5 721.77L404.94 722.37L407.37 722.95L409.8 723.51L412.24 724.05L414.67 724.57L417.11 725.07L419.54 725.55L421.98 726.01L424.41 726.46L426.85 726.89L429.28 727.31L431.71 727.7L434.15 728.09L436.58 728.45L439.02 728.81L441.45 729.15L443.89 729.47L446.32 729.78L448.76 730.08L451.19 730.37L453.62 730.65L456.06 730.91L458.49 731.16L460.93 731.4L463.36 731.64L465.8 731.86L468.23 732.07L470.67 732.27L473.1 732.46L475.54 732.65L477.97 732.82L480.4 732.99L482.84 733.15L485.27 733.3L487.71 733.45L490.14 733.58L492.58 733.72L495.01 733.84L497.45 733.96L499.88 734.07L502.31 734.18L504.75 734.28L507.18 734.38L509.62 734.47L512.05 734.56L514.49 734.64L516.92 734.72L519.36 734.8L521.79 734.87L524.23 734.93L526.66 735L529.09 735.06L531.53 735.11L533.96 735.17L536.4 735.22L538.83 735.27L541.27 735.31L543.7 735.35L546.14 735.39L548.57 735.43L551 735.47L553.44 735.5L555.87 735.53L558.31 735.56L560.74 735.59L563.18 735.62L565.61 735.64L568.05 735.67L570.48 735.69L572.92 735.71L575.35 735.73L575.35 736.1L572.92 736.1L570.48 736.11L568.05 736.12L565.61 736.13L563.18 736.13L560.74 736.14L558.31 736.15L555.87 736.16L553.44 736.17L551 736.18L548.57 736.19L546.14 736.2L543.7 736.21L541.27 736.22L538.83 736.24L536.4 736.25L533.96 736.26L531.53 736.28L529.09 736.29L526.66 736.31L524.23 736.33L521.79 736.34L519.36 736.36L516.92 736.38L514.49 736.4L512.05 736.42L509.62 736.44L507.18 736.46L504.75 736.48L502.31 736.51L499.88 736.53L497.45 736.56L495.01 736.58L492.58 736.61L490.14 736.63L487.71 736.66L485.27 736.69L482.84 736.72L480.4 736.75L477.97 736.78L475.54 736.81L473.1 736.84L470.67 736.88L468.23 736.91L465.8 736.94L463.36 736.98L460.93 737.01L458.49 737.05L456.06 737.08L453.62 737.12L451.19 737.16L448.76 737.19L446.32 737.23L443.89 737.26L441.45 737.3L439.02 737.34L436.58 737.37L434.15 737.41L431.71 737.44L429.28 737.48L426.85 737.51L424.41 737.54L421.98 737.57L419.54 737.6L417.11 737.63L414.67 737.66L412.24 737.68L409.8 737.7L407.37 737.72L404.94 737.74L402.5 737.76L400.07 737.77L397.63 737.78L395.2 737.78L392.76 737.78L390.33 737.78L387.89 737.77L385.46 737.75L383.02 737.74L380.59 737.71L378.16 737.68L375.72 737.64L373.29 737.6L370.85 737.55L368.42 737.49L365.98 737.42L363.55 737.35L361.11 737.27L358.68 737.17L356.24 737.07L353.81 736.95L351.38 736.83L348.94 736.69L346.51 736.55L344.07 736.38L341.64 736.21L339.2 736.02L336.77 735.82L334.33 735.61L331.9 735.37L329.47 735.13L327.03 734.86L324.6 734.58L322.16 734.28L319.73 733.96L317.29 733.63L314.86 733.27L312.42 732.89L309.99 732.5L307.56 732.08L305.12 731.63L302.69 731.17L300.25 730.68L297.82 730.17L295.38 729.63L292.95 729.07L290.51 728.48L288.08 727.87L285.64 727.23L283.21 726.56L280.78 725.86L278.34 725.13L275.91 724.37L273.47 723.58L271.04 722.77L268.6 721.92L266.17 721.04L263.73 720.12L261.3 719.18L258.87 718.2L256.43 717.18L254 716.14L251.56 715.05L249.13 713.94L246.69 712.78L244.26 711.6L241.82 710.37L239.39 709.11L236.95 707.82L234.52 706.48L232.09 705.11L229.65 703.7L227.22 702.26L224.78 700.78L222.35 699.26L219.91 697.7L217.48 696.11L215.04 694.47L212.61 692.8L210.18 691.1L207.74 689.35L205.31 687.57L202.87 685.75L200.44 683.9L198 682.01L195.57 680.08L193.13 678.11L190.7 676.12L188.26 674.08L185.83 672.01L183.4 669.91L180.96 667.78L178.53 665.61L176.09 663.41L173.66 661.17L171.22 658.91L168.79 656.62L166.35 654.29L163.92 651.94L161.49 649.56L159.05 647.15L156.62 644.71L154.18 642.25L151.75 639.77L149.31 637.26L146.88 634.73L144.44 632.18L142.01 629.6L139.57 627.01L137.14 624.39L134.71 621.77L132.27 619.12L129.84 616.46L127.4 613.78L124.97 611.09L122.53 608.39L120.1 605.68L117.66 602.96L115.23 600.23L112.8 597.49L110.36 594.75L107.93 592L105.49 589.25L103.06 586.5L100.62 583.74L98.19 580.99L95.75 578.24L93.32 575.49L90.88 572.74L88.45 570Z" fill="#404040" fill-opacity="0.8"/>
<path d="M88.45 560.86L90.88 563.78L93.32 566.7L95.75 569.62L98.19 572.54L100.62 575.46L103.06 578.38L105.49 581.29L107.93 584.2L110.36 587.11L112.8 590L115.23 592.88L117.66 595.76L120.1 598.62L122.53 601.46L124.97 604.29L127.4 607.11L129.84 609.9L132.27 612.68L134.71 615.44L137.14 618.18L139.57 620.89L142.01 623.58L144.44 626.24L146.88 628.88L149.31 631.49L151.75 634.08L154.18 636.63L156.62 639.16L159.05 641.65L161.49 644.12L163.92 646.55L166.35 648.95L168.79 651.31L171.22 653.64L173.66 655.93L176.09 658.19L178.53 660.42L180.96 662.6L183.4 664.75L185.83 666.86L188.26 668.94L190.7 670.98L193.13 672.97L195.57 674.93L198 676.86L200.44 678.74L202.87 680.58L205.31 682.39L207.74 684.15L210.18 685.88L212.61 687.57L215.04 689.21L217.48 690.82L219.91 692.4L222.35 693.93L224.78 695.42L227.22 696.88L229.65 698.3L232.09 699.68L234.52 701.03L236.95 702.34L239.39 703.61L241.82 704.85L244.26 706.05L246.69 707.22L249.13 708.35L251.56 709.45L254 710.51L256.43 711.55L258.87 712.55L261.3 713.51L263.73 714.45L266.17 715.36L268.6 716.23L271.04 717.08L273.47 717.9L275.91 718.69L278.34 719.45L280.78 720.19L283.21 720.89L285.64 721.58L288.08 722.23L290.51 722.87L292.95 723.48L295.38 724.06L297.82 724.63L300.25 725.17L302.69 725.69L305.12 726.19L307.56 726.67L309.99 727.13L312.42 727.57L314.86 727.99L317.29 728.39L319.73 728.78L322.16 729.15L324.6 729.5L327.03 729.84L329.47 730.17L331.9 730.47L334.33 730.77L336.77 731.05L339.2 731.32L341.64 731.57L344.07 731.82L346.51 732.05L348.94 732.27L351.38 732.48L353.81 732.68L356.24 732.87L358.68 733.05L361.11 733.22L363.55 733.38L365.98 733.54L368.42 733.68L370.85 733.82L373.29 733.95L375.72 734.08L378.16 734.19L380.59 734.31L383.02 734.41L385.46 734.51L387.89 734.6L390.33 734.69L392.76 734.78L395.2 734.85L397.63 734.93L400.07 735L402.5 735.06L404.94 735.13L407.37 735.18L409.8 735.24L412.24 735.29L414.67 735.34L417.11 735.38L419.54 735.43L421.98 735.47L424.41 735.5L426.85 735.54L429.28 735.57L431.71 735.6L434.15 735.63L436.58 735.66L439.02 735.68L441.45 735.71L443.89 735.73L446.32 735.75L448.76 735.77L451.19 735.79L453.62 735.8L456.06 735.82L458.49 735.83L460.93 735.85L463.36 735.86L465.8 735.87L468.23 735.88L470.67 735.89L473.1 735.9L475.54 735.91L477.97 735.92L480.4 735.92L482.84 735.93L485.27 735.94L487.71 735.94L490.14 735.95L492.58 735.96L495.01 735.96L497.45 735.96L499.88 735.97L502.31 735.97L504.75 735.97L507.18 735.97L509.62 735.98L512.05 735.98L514.49 735.98L516.92 735.98L519.36 735.98L521.79 735.98L524.23 735.99L526.66 735.99L529.09 735.99L531.53 735.99L533.96 735.99L536.4 735.99L538.83 735.99L541.27 735.99L543.7 735.99L546.14 735.99L548.57 735.99L551 735.99L553.44 735.99L555.87 736L558.31 736L560.74 736L563.18 736L565.61 736L568.05 736L570.48 736L572.92 736L575.35 736L575.35 736L572.92 736L570.48 736L568.05 736L565.61 736L563.18 736L560.74 736L558.31 736L555.87 736L553.44 736L551 736L548.57 736L546.14 736L543.7 736L541.27 736L538.83 736L536.4 736L533.96 736L531.53 736L529.09 736L526.66 736L524.23 735.99L521.79 735.99L519.36 735.99L516.92 735.99L514.49 735.99L512.05 735.99L509.62 735.99L507.18 735.99L504.75 735.99L502.31 735.99L499.88 735.99L497.45 735.99L495.01 735.98L492.58 735.98L490.14 735.98L487.71 735.98L485.27 735.98L482.84 735.98L480.4 735.97L477.97 735.97L475.54 735.97L473.1 735.97L470.67 735.96L468.23 735.96L465.8 735.96L463.36 735.95L460.93 735.95L458.49 735.94L456.06 735.94L453.62 735.94L451.19 735.93L448.76 735.93L446.32 735.92L443.89 735.91L441.45 735.91L439.02 735.9L436.58 735.89L434.15 735.88L431.71 735.87L429.28 735.87L426.85 735.86L424.41 735.85L421.98 735.83L419.54 735.82L417.11 735.81L414.67 735.8L412.24 735.78L409.8 735.77L407.37 735.75L404.94 735.73L402.5 735.71L400.07 735.69L397.63 735.67L395.2 735.65L392.76 735.63L390.33 735.6L387.89 735.58L385.46 735.55L383.02 735.52L380.59 735.49L378.16 735.46L375.72 735.42L373.29 735.39L370.85 735.35L368.42 735.31L365.98 735.26L363.55 735.22L361.11 735.17L358.68 735.12L356.24 735.07L353.81 735.01L351.38 734.95L348.94 734.89L346.51 734.83L344.07 734.76L341.64 734.68L339.2 734.61L336.77 734.53L334.33 734.44L331.9 734.36L329.47 734.26L327.03 734.17L324.6 734.06L322.16 733.96L319.73 733.85L317.29 733.73L314.86 733.6L312.42 733.48L309.99 733.34L307.56 733.2L305.12 733.05L302.69 732.9L300.25 732.73L297.82 732.57L295.38 732.39L292.95 732.2L290.51 732.01L288.08 731.81L285.64 731.6L283.21 731.38L280.78 731.15L278.34 730.91L275.91 730.66L273.47 730.4L271.04 730.13L268.6 729.85L266.17 729.56L263.73 729.26L261.3 728.94L258.87 728.61L256.43 728.27L254 727.91L251.56 727.54L249.13 727.16L246.69 726.76L244.26 726.35L241.82 725.92L239.39 725.47L236.95 725.01L234.52 724.53L232.09 724.04L229.65 723.52L227.22 722.99L224.78 722.44L222.35 721.87L219.91 721.29L217.48 720.68L215.04 720.05L212.61 719.4L210.18 718.73L207.74 718.03L205.31 717.32L202.87 716.58L200.44 715.82L198 715.03L195.57 714.23L193.13 713.39L190.7 712.53L188.26 711.65L185.83 710.74L183.4 709.8L180.96 708.84L178.53 707.85L176.09 706.83L173.66 705.79L171.22 704.71L168.79 703.61L166.35 702.48L163.92 701.32L161.49 700.13L159.05 698.91L156.62 697.66L154.18 696.38L151.75 695.07L149.31 693.73L146.88 692.36L144.44 690.95L142.01 689.52L139.57 688.05L137.14 686.55L134.71 685.02L132.27 683.46L129.84 681.87L127.4 680.24L124.97 678.58L122.53 676.89L120.1 675.17L117.66 673.42L115.23 671.64L112.8 669.82L110.36 667.97L107.93 666.1L105.49 664.19L103.06 662.25L100.62 660.28L98.19 658.28L95.75 656.25L93.32 654.19L90.88 652.11L88.45 649.99Z" fill="#808080" fill-opacity="0.8"/>
<path d="M88.45 658.96L90.88 661.02L93.32 663.06L95.75 665.06L98.19 667.04L100.62 668.98L103.06 670.88L105.49 672.76L107.93 674.6L110.36 676.41L112.8 678.18L115.23 679.93L117.66 681.63L120.1 683.31L122.53 684.95L124.97 686.55L127.4 688.13L129.84 689.67L132.27 691.17L134.71 692.64L137.14 694.08L139.57 695.49L142.01 696.86L144.44 698.2L146.88 699.5L149.31 700.78L151.75 702.02L154.18 703.23L156.62 704.41L159.05 705.55L161.49 706.67L163.92 707.75L166.35 708.81L168.79 709.83L171.22 710.83L173.66 711.8L176.09 712.73L178.53 713.64L180.96 714.53L183.4 715.38L185.83 716.21L188.26 717.01L190.7 717.79L193.13 718.54L195.57 719.26L198 719.97L200.44 720.65L202.87 721.3L205.31 721.93L207.74 722.54L210.18 723.13L212.61 723.7L215.04 724.25L217.48 724.77L219.91 725.28L222.35 725.77L224.78 726.24L227.22 726.69L229.65 727.13L232.09 727.54L234.52 727.94L236.95 728.33L239.39 728.7L241.82 729.05L244.26 729.39L246.69 729.72L249.13 730.03L251.56 730.33L254 730.61L256.43 730.88L258.87 731.15L261.3 731.39L263.73 731.63L266.17 731.86L268.6 732.08L271.04 732.29L273.47 732.48L275.91 732.67L278.34 732.85L280.78 733.02L283.21 733.19L285.64 733.34L288.08 733.49L290.51 733.63L292.95 733.76L295.38 733.89L297.82 734.01L300.25 734.12L302.69 734.23L305.12 734.33L307.56 734.43L309.99 734.52L312.42 734.61L314.86 734.69L317.29 734.77L319.73 734.85L322.16 734.92L324.6 734.98L327.03 735.04L329.47 735.1L331.9 735.16L334.33 735.21L336.77 735.26L339.2 735.31L341.64 735.35L344.07 735.39L346.51 735.43L348.94 735.47L351.38 735.5L353.81 735.54L356.24 735.57L358.68 735.6L361.11 735.62L363.55 735.65L365.98 735.67L368.42 735.69L370.85 735.71L373.29 735.73L375.72 735.75L378.16 735.77L380.59 735.79L383.02 735.8L385.46 735.81L387.89 735.83L390.33 735.84L392.76 735.85L395.2 735.86L397.63 735.87L400.07 735.88L402.5 735.89L404.94 735.9L407.37 735.91L409.8 735.91L412.24 735.92L414.67 735.93L417.11 735.93L419.54 735.94L421.98 735.94L424.41 735.95L426.85 735.95L429.28 735.95L431.71 735.96L434.15 735.96L436.58 735.96L439.02 735.97L441.45 735.97L443.89 735.97L446.32 735.97L448.76 735.98L451.19 735.98L453.62 735.98L456.06 735.98L458.49 735.98L460.93 735.98L463.36 735.99L465.8 735.99L468.23 735.99L470.67 735.99L473.1 735.99L475.54 735.99L477.97 735.99L480.4 735.99L482.84 735.99L485.27 735.99L487.71 735.99L490.14 735.99L492.58 736L495.01 736L497.45 736L499.88 736L502.31 736L504.75 736L507.18 736L509.62 736L512.05 736L514.49 736L516.92 736L519.36 736L521.79 736L524.23 736L526.66 736L529.09 736L531.53 736L533.96 736L536.4 736L538.83 736L541.27 736L543.7 736L546.14 736L548.57 736L551 736L553.44 736L555.87 736L558.31 736L560.74 736L563.18 736L565.61 736L568.05 736L570.48 736L572.92 736L575.35 736L575.35 736L572.92 736L570.48 736L568.05 736L565.61 736L563.18 736L560.74 736L558.31 736L555.87 736L553.44 736L551 736L548.57 736L546.14 736L543.7 736L541.27 736L538.83 736L536.4 736L533.96 736L531.53 736L529.09 736L526.66 736L524.23 736L521.79 736L519.36 736L516.92 736L514.49 736L512.05 736L509.62 736L507.18 736L504.75 736L502.31 736L499.88 736L497.45 736L495.01 736L492.58 736L490.14 736L487.71 736L485.27 736L482.84 736L480.4 736L477.97 736L475.54 736L473.1 736L470.67 736L468.23 736L465.8 736.01L463.36 736.01L460.93 736.01L458.49 736.01L456.06 736.01L453.62 736.01L451.19 736.01L448.76 736.01L446.32 736.01L443.89 736.01L441.45 736.01L439.02 736.01L436.58 736.01L434.15 736.01L431.71 736.01L429.28 736.01L426.85 736.02L424.41 736.02L421.98 736.02L419.54 736.02L417.11 736.02L414.67 736.02L412.24 736.02L409.8 736.02L407.37 736.03L404.94 736.03L402.5 736.03L400.07 736.03L397.63 736.03L395.2 736.03L392.76 736.04L390.33 736.04L387.89 736.04L385.46 736.04L383.02 736.05L380.59 736.05L378.16 736.05L375.72 736.05L373.29 736.06L370.85 736.06L368.42 736.06L365.98 736.06L363.55 736.07L361.11 736.07L358.68 736.07L356.24 736.08L353.81 736.08L351.38 736.08L348.94 736.09L346.51 736.09L344.07 736.09L341.64 736.1L339.2 736.1L336.77 736.1L334.33 736.11L331.9 736.11L329.47 736.11L327.03 736.12L324.6 736.12L322.16 736.12L319.73 736.12L317.29 736.13L314.86 736.13L312.42 736.13L309.99 736.13L307.56 736.13L305.12 736.13L302.69 736.13L300.25 736.13L297.82 736.13L295.38 736.13L292.95 736.13L290.51 736.12L288.08 736.12L285.64 736.12L283.21 736.11L280.78 736.1L278.34 736.09L275.91 736.08L273.47 736.07L271.04 736.06L268.6 736.05L266.17 736.03L263.73 736.01L261.3 735.99L258.87 735.97L256.43 735.95L254 735.92L251.56 735.89L249.13 735.86L246.69 735.82L244.26 735.79L241.82 735.74L239.39 735.7L236.95 735.65L234.52 735.6L232.09 735.54L229.65 735.48L227.22 735.41L224.78 735.34L222.35 735.27L219.91 735.18L217.48 735.1L215.04 735L212.61 734.9L210.18 734.8L207.74 734.68L205.31 734.56L202.87 734.44L200.44 734.3L198 734.16L195.57 734L193.13 733.84L190.7 733.67L188.26 733.49L185.83 733.3L183.4 733.1L180.96 732.88L178.53 732.66L176.09 732.43L173.66 732.18L171.22 731.92L168.79 731.64L166.35 731.36L163.92 731.06L161.49 730.74L159.05 730.41L156.62 730.06L154.18 729.7L151.75 729.32L149.31 728.93L146.88 728.52L144.44 728.09L142.01 727.64L139.57 727.17L137.14 726.68L134.71 726.18L132.27 725.65L129.84 725.1L127.4 724.53L124.97 723.94L122.53 723.33L120.1 722.69L117.66 722.03L115.23 721.35L112.8 720.64L110.36 719.91L107.93 719.15L105.49 718.37L103.06 717.56L100.62 716.72L98.19 715.86L95.75 714.96L93.32 714.05L90.88 713.1L88.45 712.12Z" fill="#e2e2e2" fill-opacity="0.8"/>
<path d="M88.45 511.24L90.88 513.47L93.32 515.73L95.75 518.01L98.19 520.32L100.62 522.64L103.06 524.99L105.49 527.36L107.93 529.74L110.36 532.15L112.8 534.57L115.23 537.01L117.66 539.46L120.1 541.93L122.53 544.42L124.97 546.91L127.4 549.42L129.84 551.94L132.27 554.47L134.71 557.01L137.14 559.56L139.57 562.12L142.01 564.68L144.44 567.24L146.88 569.81L149.31 572.39L151.75 574.96L154.18 577.54L156.62 580.11L159.05 582.69L161.49 585.26L163.92 587.83L166.35 590.39L168.79 592.95L171.22 595.5L173.66 598.05L176.09 600.58L178.53 603.11L180.96 605.62L183.4 608.13L185.83 610.62L188.26 613.1L190.7 615.56L193.13 618.01L195.57 620.44L198 622.85L200.44 625.25L202.87 627.63L205.31 629.98L207.74 632.32L210.18 634.64L212.61 636.93L215.04 639.2L217.48 641.45L219.91 643.67L222.35 645.87L224.78 648.04L227.22 650.19L229.65 652.31L232.09 654.4L234.52 656.47L236.95 658.51L239.39 660.52L241.82 662.5L244.26 664.45L246.69 666.37L249.13 668.26L251.56 670.12L254 671.95L256.43 673.75L258.87 675.52L261.3 677.26L263.73 678.96L266.17 680.64L268.6 682.28L271.04 683.89L273.47 685.47L275.91 687.02L278.34 688.53L280.78 690.02L283.21 691.47L285.64 692.89L288.08 694.28L290.51 695.64L292.95 696.97L295.38 698.26L297.82 699.53L300.25 700.77L302.69 701.97L305.12 703.15L307.56 704.29L309.99 705.41L312.42 706.49L314.86 707.55L317.29 708.58L319.73 709.58L322.16 710.56L324.6 711.5L327.03 712.42L329.47 713.31L331.9 714.18L334.33 715.02L336.77 715.84L339.2 716.63L341.64 717.39L344.07 718.13L346.51 718.85L348.94 719.55L351.38 720.22L353.81 720.87L356.24 721.5L358.68 722.11L361.11 722.7L363.55 723.26L365.98 723.81L368.42 724.34L370.85 724.85L373.29 725.34L375.72 725.81L378.16 726.26L380.59 726.7L383.02 727.12L385.46 727.53L387.89 727.92L390.33 728.3L392.76 728.66L395.2 729L397.63 729.33L400.07 729.65L402.5 729.96L404.94 730.25L407.37 730.53L409.8 730.8L412.24 731.06L414.67 731.3L417.11 731.54L419.54 731.77L421.98 731.98L424.41 732.19L426.85 732.38L429.28 732.57L431.71 732.75L434.15 732.92L436.58 733.09L439.02 733.24L441.45 733.39L443.89 733.53L446.32 733.67L448.76 733.79L451.19 733.92L453.62 734.03L456.06 734.14L458.49 734.25L460.93 734.35L463.36 734.44L465.8 734.53L468.23 734.61L470.67 734.69L473.1 734.77L475.54 734.84L477.97 734.91L480.4 734.98L482.84 735.04L485.27 735.09L487.71 735.15L490.14 735.2L492.58 735.25L495.01 735.3L497.45 735.34L499.88 735.38L502.31 735.42L504.75 735.46L507.18 735.49L509.62 735.52L512.05 735.55L514.49 735.58L516.92 735.61L519.36 735.64L521.79 735.66L524.23 735.68L526.66 735.7L529.09 735.72L531.53 735.74L533.96 735.76L536.4 735.77L538.83 735.79L541.27 735.8L543.7 735.82L546.14 735.83L548.57 735.84L551 735.85L553.44 735.86L555.87 735.87L558.31 735.88L560.74 735.89L563.18 735.9L565.61 735.91L568.05 735.91L570.48 735.92L572.92 735.92L575.35 735.93" fill="none" stroke="#000" stroke-width="1.35" stroke-linecap="round" stroke-linejoin="round" />
<path d="M88.45 605.17L90.88 607.72L93.32 610.25L95.75 612.77L98.19 615.27L100.62 617.76L103.06 620.23L105.49 622.68L107.93 625.12L110.36 627.53L112.8 629.93L115.23 632.3L117.66 634.65L120.1 636.98L122.53 639.29L124.97 641.57L127.4 643.82L129.84 646.05L132.27 648.26L134.71 650.44L137.14 652.59L139.57 654.71L142.01 656.8L144.44 658.86L146.88 660.9L149.31 662.9L151.75 664.88L154.18 666.82L156.62 668.74L159.05 670.62L161.49 672.47L163.92 674.29L166.35 676.07L168.79 677.83L171.22 679.55L173.66 681.24L176.09 682.89L178.53 684.52L180.96 686.11L183.4 687.66L185.83 689.19L188.26 690.68L190.7 692.14L193.13 693.57L195.57 694.97L198 696.33L200.44 697.66L202.87 698.96L205.31 700.23L207.74 701.47L210.18 702.67L212.61 703.85L215.04 704.99L217.48 706.11L219.91 707.19L222.35 708.25L224.78 709.27L227.22 710.27L229.65 711.24L232.09 712.18L234.52 713.09L236.95 713.98L239.39 714.84L241.82 715.67L244.26 716.48L246.69 717.26L249.13 718.02L251.56 718.75L254 719.46L256.43 720.15L258.87 720.81L261.3 721.45L263.73 722.07L266.17 722.67L268.6 723.24L271.04 723.8L273.47 724.34L275.91 724.85L278.34 725.35L280.78 725.83L283.21 726.29L285.64 726.73L288.08 727.16L290.51 727.57L292.95 727.97L295.38 728.35L297.82 728.71L300.25 729.06L302.69 729.39L305.12 729.71L307.56 730.02L309.99 730.32L312.42 730.6L314.86 730.87L317.29 731.13L319.73 731.37L322.16 731.61L324.6 731.84L327.03 732.05L329.47 732.26L331.9 732.45L334.33 732.64L336.77 732.82L339.2 732.99L341.64 733.15L344.07 733.31L346.51 733.46L348.94 733.6L351.38 733.73L353.81 733.86L356.24 733.98L358.68 734.09L361.11 734.2L363.55 734.3L365.98 734.4L368.42 734.49L370.85 734.58L373.29 734.66L375.72 734.74L378.16 734.82L380.59 734.89L383.02 734.96L385.46 735.02L387.89 735.08L390.33 735.14L392.76 735.19L395.2 735.24L397.63 735.29L400.07 735.33L402.5 735.37L404.94 735.41L407.37 735.45L409.8 735.49L412.24 735.52L414.67 735.55L417.11 735.58L419.54 735.61L421.98 735.63L424.41 735.66L426.85 735.68L429.28 735.7L431.71 735.72L434.15 735.74L436.58 735.76L439.02 735.78L441.45 735.79L443.89 735.81L446.32 735.82L448.76 735.83L451.19 735.84L453.62 735.85L456.06 735.87L458.49 735.87L460.93 735.88L463.36 735.89L465.8 735.9L468.23 735.91L470.67 735.91L473.1 735.92L475.54 735.93L477.97 735.93L480.4 735.94L482.84 735.94L485.27 735.95L487.71 735.95L490.14 735.95L492.58 735.96L495.01 735.96L497.45 735.96L499.88 735.97L502.31 735.97L504.75 735.97L507.18 735.97L509.62 735.98L512.05 735.98L514.49 735.98L516.92 735.98L519.36 735.98L521.79 735.98L524.23 735.99L526.66 735.99L529.09 735.99L531.53 735.99L533.96 735.99L536.4 735.99L538.83 735.99L541.27 735.99L543.7 735.99L546.14 735.99L548.57 735.99L551 735.99L553.44 735.99L555.87 736L558.31 736L560.74 736L563.18 736L565.61 736L568.05 736L570.48 736L572.92 736L575.35 736" fill="none" stroke="#000" stroke-width="1.6" stroke-linecap="round" stroke-linejoin="round" stroke-dasharray="9.6 6.3"/>
<path d="M88.45 685.48L90.88 687.04L93.32 688.57L95.75 690.07L98.19 691.54L100.62 692.97L103.06 694.38L105.49 695.75L107.93 697.09L110.36 698.39L112.8 699.67L115.23 700.92L117.66 702.13L120.1 703.31L122.53 704.47L124.97 705.59L127.4 706.68L129.84 707.75L132.27 708.78L134.71 709.79L137.14 710.77L139.57 711.72L142.01 712.64L144.44 713.53L146.88 714.4L149.31 715.25L151.75 716.06L154.18 716.86L156.62 717.62L159.05 718.36L161.49 719.08L163.92 719.78L166.35 720.45L168.79 721.1L171.22 721.73L173.66 722.34L176.09 722.92L178.53 723.49L180.96 724.03L183.4 724.56L185.83 725.06L188.26 725.55L190.7 726.02L193.13 726.47L195.57 726.91L198 727.32L200.44 727.73L202.87 728.11L205.31 728.48L207.74 728.84L210.18 729.18L212.61 729.51L215.04 729.83L217.48 730.13L219.91 730.42L222.35 730.69L224.78 730.96L227.22 731.21L229.65 731.45L232.09 731.69L234.52 731.91L236.95 732.12L239.39 732.32L241.82 732.51L244.26 732.7L246.69 732.87L249.13 733.04L251.56 733.2L254 733.35L256.43 733.5L258.87 733.63L261.3 733.76L263.73 733.89L266.17 734.01L268.6 734.12L271.04 734.23L273.47 734.33L275.91 734.42L278.34 734.52L280.78 734.6L283.21 734.68L285.64 734.76L288.08 734.83L290.51 734.9L292.95 734.97L295.38 735.03L297.82 735.09L300.25 735.15L302.69 735.2L305.12 735.25L307.56 735.3L309.99 735.34L312.42 735.38L314.86 735.42L317.29 735.46L319.73 735.49L322.16 735.52L324.6 735.56L327.03 735.58L329.47 735.61L331.9 735.64L334.33 735.66L336.77 735.68L339.2 735.7L341.64 735.72L344.07 735.74L346.51 735.76L348.94 735.78L351.38 735.79L353.81 735.81L356.24 735.82L358.68 735.83L361.11 735.84L363.55 735.86L365.98 735.87L368.42 735.88L370.85 735.88L373.29 735.89L375.72 735.9L378.16 735.91L380.59 735.91L383.02 735.92L385.46 735.93L387.89 735.93L390.33 735.94L392.76 735.94L395.2 735.95L397.63 735.95L400.07 735.95L402.5 735.96L404.94 735.96L407.37 735.96L409.8 735.97L412.24 735.97L414.67 735.97L417.11 735.97L419.54 735.98L421.98 735.98L424.41 735.98L426.85 735.98L429.28 735.98L431.71 735.98L434.15 735.99L436.58 735.99L439.02 735.99L441.45 735.99L443.89 735.99L446.32 735.99L448.76 735.99L451.19 735.99L453.62 735.99L456.06 735.99L458.49 735.99L460.93 735.99L463.36 735.99L465.8 736L468.23 736L470.67 736L473.1 736L475.54 736L477.97 736L480.4 736L482.84 736L485.27 736L487.71 736L490.14 736L492.58 736L495.01 736L497.45 736L499.88 736L502.31 736L504.75 736L507.18 736L509.62 736L512.05 736L514.49 736L516.92 736L519.36 736L521.79 736L524.23 736L526.66 736L529.09 736L531.53 736L533.96 736L536.4 736L538.83 736L541.27 736L543.7 736L546.14 736L548.57 736L551 736L553.44 736L555.87 736L558.31 736L560.74 736L563.18 736L565.61 736L568.05 736L570.48 736L572.92 736L575.35 736" fill="none" stroke="#000" stroke-width="2.15" stroke-linecap="round" stroke-linejoin="round" stroke-dasharray="0.3 6.3"/>
</g>
<rect x="64.5" y="402.5" width="535.0" height="352.0" fill="none" stroke="#5c5c5c" stroke-width="1.0"/>
<path d="M88.45 754.5v3.6M137.14 754.5v3.6M185.83 754.5v3.6M234.52 754.5v3.6M283.21 754.5v3.6M331.9 754.5v3.6M380.59 754.5v3.6M429.28 754.5v3.6M477.97 754.5v3.6M526.66 754.5v3.6M575.35 754.5v3.6M64.5 736h-4.4M64.5 656.48h-4.4M64.5 576.95h-4.4M64.5 497.42h-4.4M64.5 417.9h-4.4" stroke="#5c5c5c" stroke-width="1.0" fill="none"/>
<text x="88.45" y="771.5" text-anchor="middle" class="ax">0</text>
<text x="137.14" y="771.5" text-anchor="middle" class="ax"> 0</text><path transform="translate(130.47 771.50) scale(0.005859 -0.005859)" d="M515 0L515 1237L197 1010L197 1180L530 1409L696 1409L696 0Z" class="ax1"/>
<text x="185.83" y="771.5" text-anchor="middle" class="ax">20</text>
<text x="234.52" y="771.5" text-anchor="middle" class="ax">30</text>
<text x="283.21" y="771.5" text-anchor="middle" class="ax">40</text>
<text x="331.9" y="771.5" text-anchor="middle" class="ax">50</text>
<text x="380.59" y="771.5" text-anchor="middle" class="ax">60</text>
<text x="429.28" y="771.5" text-anchor="middle" class="ax">70</text>
<text x="477.97" y="771.5" text-anchor="middle" class="ax">80</text>
<text x="526.66" y="771.5" text-anchor="middle" class="ax">90</text>
<text x="575.35" y="771.5" text-anchor="middle" class="ax"> 00</text><path transform="translate(565.34 771.50) scale(0.005859 -0.005859)" d="M515 0L515 1237L197 1010L197 1180L530 1409L696 1409L696 0Z" class="ax1"/>
<text x="57.6" y="741.5" text-anchor="end" class="ax">0.00</text>
<text x="57.6" y="661.98" text-anchor="end" class="ax">0.25</text>
<text x="57.6" y="582.45" text-anchor="end" class="ax">0.50</text>
<text x="57.6" y="502.92" text-anchor="end" class="ax">0.75</text>
<text x="57.6" y="423.4" text-anchor="end" class="ax"> .00</text><path transform="translate(34.24 423.40) scale(0.005859 -0.005859)" d="M515 0L515 1237L197 1010L197 1180L530 1409L696 1409L696 0Z" class="ax1"/>
<path d="M568.6 416.9L568.6 436.3M568.6 426.5C569.6 424 571.6 423 574 423C577.4 423 579.2 425.6 579.2 429.2C579.2 433 577.3 435.3 574 435.3C571.6 435.3 569.6 434.2 568.6 431.8" fill="none" stroke="#000" stroke-width="2.2"/>

<text class="tt" transform="translate(11.3,370.5) rotate(-90)" text-anchor="middle" textLength="110.6" lengthAdjust="spacingAndGlyphs" style="font-size:13.7px;stroke:#000;stroke-width:0.45px">Probability of attack</text>
<text class="tt" x="330.6" y="786.6" text-anchor="middle" textLength="77.2" lengthAdjust="spacingAndGlyphs" style="font-size:13.2px;stroke:#000;stroke-width:0.45px">Distance (km)</text>
<text class="lt" x="617.6" y="358.9">N° of trees</text>
<path d="M620 380.3H638" stroke="#000" stroke-width="2.6" fill="none"/>
<path d="M619.6 404.6H638" stroke="#000" stroke-width="1.9" stroke-dasharray="7 4" fill="none"/>
<path d="M620 428.5H638" stroke="#000" stroke-width="2.8" stroke-dasharray="2.8 8.1" fill="none"/>

<text x="647.4" y="385" text-anchor="start" class="lg"> 0000</text><path transform="translate(647.40 385.00) scale(0.005615 -0.005615)" d="M515 0L515 1237L197 1010L197 1180L530 1409L696 1409L696 0Z" class="lg1"/>
<text x="647.4" y="408.9" text-anchor="start" class="lg">5000</text>
<text x="647.4" y="433.2" text-anchor="start" class="lg"> 0</text><path transform="translate(647.40 433.20) scale(0.005615 -0.005615)" d="M515 0L515 1237L197 1010L197 1180L530 1409L696 1409L696 0Z" class="lg1"/>
</svg></body></html>
